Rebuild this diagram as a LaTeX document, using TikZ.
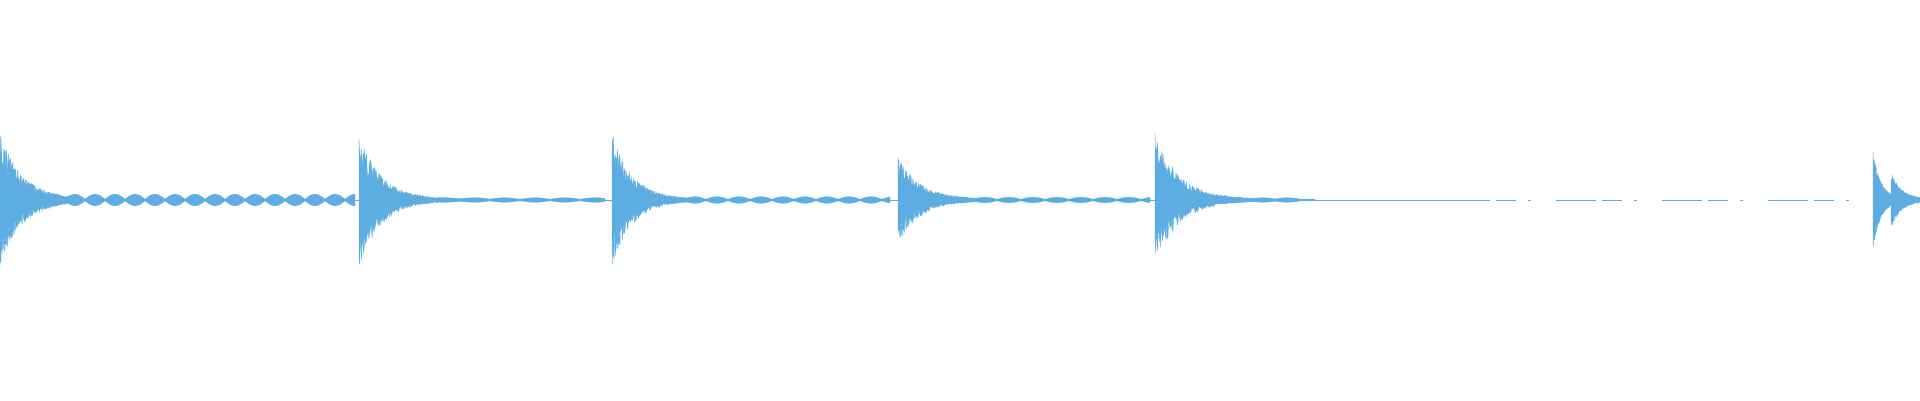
\documentclass[tikz,border=0pt]{standalone}
\definecolor{wave}{RGB}{93,173,226}
\tikzset{wavefill/.style={fill=wave,draw=wave,line width=0.3pt}}
\newcommand{\wburst}[4]{%
 \fill[wavefill] plot[domain=0:#4,samples=260] ({#1+\x},{200+#2*exp(-\x/#3)*(0.5+0.5*rnd)+0.8})
  -- plot[domain=#4:0,samples=260] ({#1+\x},{200-#2*exp(-\x/#3)*(0.5+0.5*rnd)-0.8}) -- cycle;}
\newcommand{\wlobes}[4]{%
 \fill[wavefill] plot[domain=#1:#2,samples=500] ({\x},{200+0.8+#3*abs(sin((\x-#1)/#4*180))})
  -- plot[domain=#2:#1,samples=500] ({\x},{200-0.8-#3*abs(sin((\x-#1)/#4*180))}) -- cycle;}
\begin{document}
\begin{tikzpicture}[x=1pt,y=1pt]
\pgfmathsetseed{7}
\useasboundingbox (0,0) rectangle (1920,400);
\draw[wave,line width=1pt] (0,200) -- (1450,200);
\draw[wave,line width=1pt,dash pattern=on 40pt off 6pt on 20pt off 12pt on 3pt off 25pt] (1450,200) -- (1873,200);
\wburst{0}{67}{22}{80}
\wlobes{25}{355}{5}{20}
\wburst{359}{67}{22}{150}
\wlobes{430}{605}{1.5}{30}
\wburst{612}{67}{20}{90}
\wlobes{640}{890}{2.5}{22}
\wburst{898}{43}{22}{90}
\wlobes{925}{1150}{2}{24}
\wburst{1155}{66}{24}{160}
\wlobes{1200}{1300}{1.5}{25}
\wburst{1873}{48}{8}{20}
\wburst{1891}{28}{10}{29}
\end{tikzpicture}
\end{document}
